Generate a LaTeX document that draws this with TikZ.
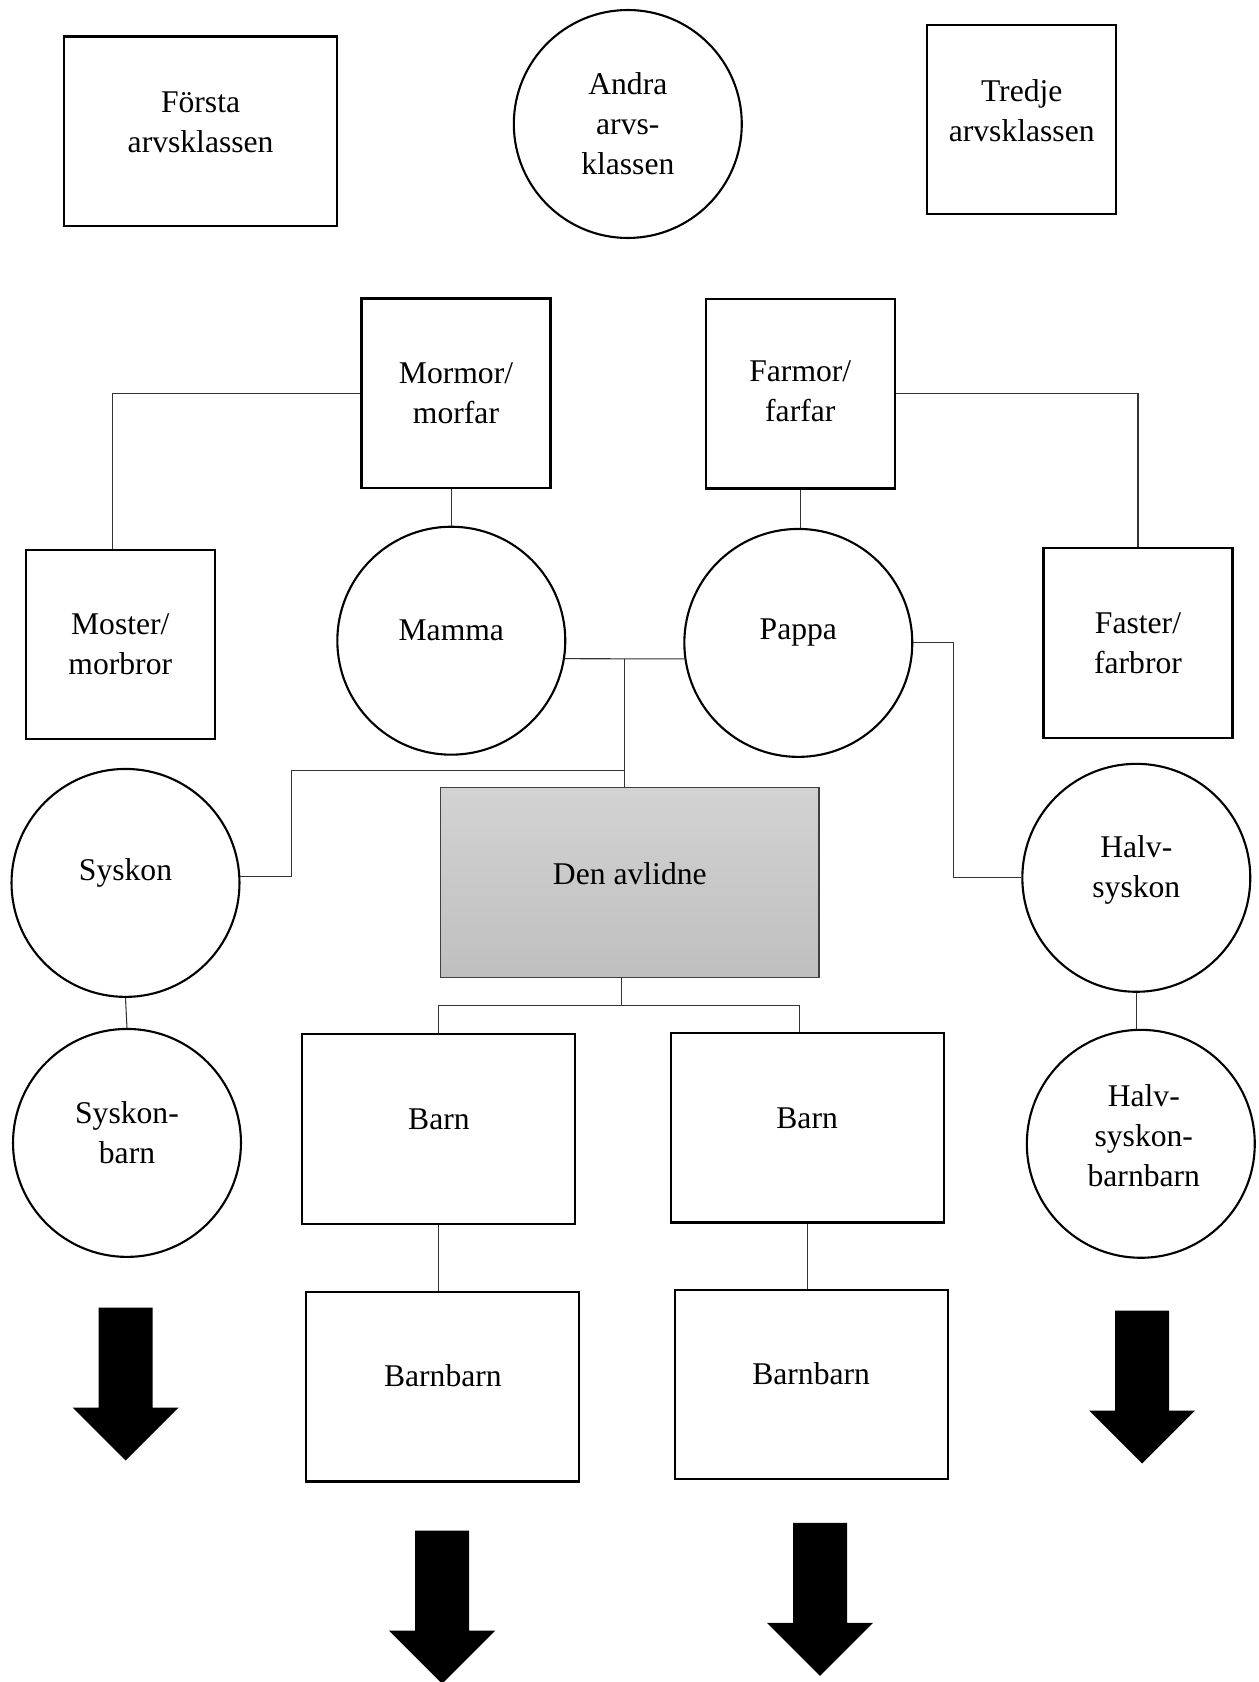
\documentclass[tikz,border=0pt]{standalone}
\usepackage{fontspec}
\setmainfont{Liberation Serif}
\usetikzlibrary{calc}

\begin{document}
\begin{tikzpicture}[x=0.02cm, y=-0.02cm,
    txt/.style={align=center, font=\fontsize{18}{22.7}\selectfont},
    kvad/.style={draw, line width=1.2pt, minimum width=5.46cm,
      minimum height=3.79cm, inner sep=0pt},
    smal/.style={kvad, minimum width=3.78cm},
    rund/.style={draw, circle, line width=1.2pt, minimum size=4.56cm,
      inner sep=0pt},
    avliden/.style={kvad, minimum width=7.57cm, draw=black!75,
      line width=0.8pt, top color=gray!35, bottom color=gray!50},
    linje/.style={draw=black!80, line width=0.6pt},
    nedpil/.pic={\fill (-27,0) -- (27,0) -- (27,100) -- (53,100) -- (0,153)
      -- (-53,100) -- (-27,100) -- cycle;}]

  \useasboundingbox (0,0) rectangle (1258,1682);

  % arvsklasser
  \node [kvad, label={[txt,yshift=0.18cm]center:{Första\\arvsklassen}}] (forsta) at (200.6,131.2) {};
  \node [rund, label={[txt]center:{Andra\\arvs-\\klassen}}] (andra) at (627.8,124) {};
  \node [smal, label={[txt,yshift=0.18cm]center:{Tredje\\arvsklassen}}] (tredje) at (1021.7,119.3) {};

  % far- och morföräldrar
  \node [smal, label={[txt]center:{Mormor/\\morfar}}] (mormor) at (456,393.2) {};
  \node [smal, label={[txt,yshift=0.06cm]center:{Farmor/\\farfar}}] (farmor) at (800.3,393.8) {};
  \node [smal, label={[txt]center:{Moster/\\morbror}}] (moster) at (120.3,644.6) {};
  \node [rund, label={[txt,yshift=0.2cm]center:Mamma}] (mamma) at (451.3,640.7) {};
  \node [rund, label={[txt,yshift=0.2cm]center:Pappa}] (pappa) at (798.3,642.9) {};
  \node [smal, label={[txt]center:{Faster/\\farbror}}] (faster) at (1138,642.9) {};

  % den avlidne och syskon
  \node [rund, label={[txt,yshift=0.2cm]center:Syskon}] (syskon) at (125.5,882.9) {};
  \node [avliden, label={[txt,yshift=0.18cm]center:Den avlidne}] (avlidne) at (629.8,882.5) {};
  \node [rund, label={[txt,yshift=0.16cm]center:{Halv-\\syskon}}] (halvsyskon) at (1136.3,877.8) {};

  % efterkommande
  \node [rund, label={[txt,yshift=0.2cm]center:{Syskon-\\barn}}] (syskonbarn) at (127,1142.9) {};
  \node [kvad, label={[txt,yshift=0.2cm]center:Barn}] (barn1) at (438.9,1128.9) {};
  \node [kvad, label={[txt,yshift=0.2cm]center:Barn}] (barn2) at (807.1,1127.8) {};
  \node [rund, label={[txt,xshift=0.06cm,yshift=0.16cm]center:{Halv-\\syskon-\\barnbarn}}] (hsbb) at (1140.8,1143.8) {};
  \node [kvad, label={[txt,yshift=0.22cm]center:Barnbarn}] (barnbarn1) at (442.9,1386.7) {};
  \node [kvad, label={[txt,yshift=0.22cm]center:Barnbarn}] (barnbarn2) at (811.1,1384.3) {};

  % linjer
  \draw [linje] (mormor.west) -| ([xshift=-0.16cm]moster.north);
  \draw [linje] (farmor.east) -| (faster.north);
  \draw [linje] (mamma.north) -- (mamma.north |- mormor.south);
  \draw [linje] (farmor.south) -- (farmor.south |- pappa.north);
  \draw [linje] (mamma.-9) -- (pappa.188);
  \coordinate (par) at ($(mamma.-9)!0.5!(pappa.188)$);
  \draw [linje] (par) -- (par |- avlidne.north);
  \coordinate (gren) at ($(par)+(0,112)$);
  \draw [linje] (gren) -| ([xshift=1.02cm]syskon.3) -- (syskon.3);
  \draw [linje] (pappa.east) -- ++(40,0) |- (halvsyskon.west);
  \draw [linje] (syskon.south) -- (syskonbarn.north);
  \draw [linje] (halvsyskon.south) -- (halvsyskon.south |- hsbb.north);
  \draw [linje] ([xshift=-0.16cm]avlidne.south) -- ++(0,28) coordinate (deln);
  \draw [linje] (deln) -| (barn1.north);
  \draw [linje] (deln) -| ([xshift=-0.16cm]barn2.north);
  \draw [linje] (barn1.south) -- (barn1.south |- barnbarn1.north);
  \draw [linje] (barn2.south) -- (barn2.south |- barnbarn2.north);

  % pilar
  \pic at (125.6,1307.5) {nedpil};
  \pic at (1142.1,1310.6) {nedpil};
  \pic at (442.1,1530.7) {nedpil};
  \pic at (820,1522.8) {nedpil};
\end{tikzpicture}
\end{document}
